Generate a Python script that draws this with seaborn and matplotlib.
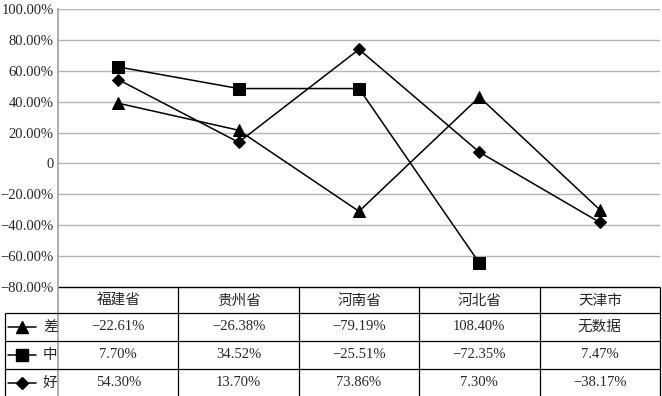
# ==========================================================
# 差 / 中 / 好 PROVINCE COMPARISON - LINE CHART WITH DATA TABLE
# ==========================================================

import numpy as np
import pandas as pd
import matplotlib
matplotlib.use("Agg")
import matplotlib.pyplot as plt
import seaborn as sns

# ==========================================================
# DATA
# ==========================================================

provinces = ["福建省", "贵州省", "河南省", "河北省", "天津市"]
series_names = ["差", "中", "好"]

# values as drawn on the chart (percent)
cha_values = [39.0, 21.5, -31.0, 43.0, -30.0]
zhong_values = [62.5, 48.5, 48.5, -64.5, np.nan]
hao_values = [54.3, 13.7, 73.86, 7.3, -38.17]

# values as printed in the table
cha_labels = ["−22.61%", "−26.38%", "−79.19%", "108.40%", "无数据"]
zhong_labels = ["7.70%", "34.52%", "−25.51%", "−72.35%", "7.47%"]
hao_labels = ["54.30%", "13.70%", "73.86%", "7.30%", "−38.17%"]

y_ticks = [-80, -60, -40, -20, 0, 20, 40, 60, 80, 100]

# ==========================================================
# STYLE
# ==========================================================

sns.set_style("white")
plt.rcParams["font.family"] = ["Liberation Serif", "Noto Sans CJK SC"]
plt.rcParams["font.size"] = 10.5

markers = {"差": "^", "中": "s", "好": "D"}
marker_sizes = {"差": 8, "中": 8, "好": 6.5}

rows = []
for name, vals in zip(series_names, [cha_values, zhong_values, hao_values]):
    for i, v in enumerate(vals):
        rows.append({"idx": i, "value": v, "series": name})
df = pd.DataFrame(rows).dropna()

# ==========================================================
# FIGURE
# ==========================================================

W, H = 662, 396
fig = plt.figure(figsize=(W / 100, H / 100), dpi=100)

ax = fig.add_axes([58 / W, 1 - 287 / H, (660 - 58) / W, (287 - 9) / H])

for name in series_names:
    sns.lineplot(
        data=df[df["series"] == name],
        x="idx",
        y="value",
        color="black",
        linewidth=1.1,
        marker=markers[name],
        markersize=marker_sizes[name],
        markeredgecolor="black",
        sort=False,
        ax=ax,
        zorder=3
    )

ax.set_xlim(-0.5, len(provinces) - 0.5)
ax.set_ylim(-80, 100)
ax.set_yticks(y_ticks)
ax.set_yticklabels(
    ["0" if t == 0 else f"{t:.2f}%".replace("-", "−") for t in y_ticks],
    fontsize=10.5
)
ax.set_xticks([])
ax.set_xlabel("")
ax.set_ylabel("")
ax.tick_params(axis="y", length=0, pad=3)

for t in y_ticks:
    if t == -80:
        continue
    ax.axhline(t, color="#b4b4b4", linewidth=1, zorder=1)

for s in ["top", "right", "bottom"]:
    ax.spines[s].set_visible(False)
ax.spines["left"].set_color("#a0a0a0")
ax.spines["left"].set_linewidth(1.2)

# ==========================================================
# DATA TABLE
# ==========================================================

px_per_unit = (660 - 58) / len(provinces)
left_col = (58 - 5) / px_per_unit
x_left = -0.5 - left_col

tax = fig.add_axes([5 / W, 0, (660 - 5) / W, 109 / H])
tax.set_xlim(x_left, len(provinces) - 0.5)
tax.set_ylim(109, 0)
tax.axis("off")

row_edges = [0, 26, 54, 82, 110]

# header top border and column separators
tax.hlines(0, -0.5, len(provinces) - 0.5, color="black", linewidth=1, clip_on=False)
for i in range(len(provinces)):
    tax.vlines(i + 0.5, 0, 110, color="black", linewidth=0.9, clip_on=False)
tax.vlines(-0.5, 0, 110, color="#a0a0a0", linewidth=1.2, clip_on=False)
tax.vlines(x_left + 0.004, row_edges[1], 110, color="black", linewidth=0.9, clip_on=False)
for y in row_edges[1:4]:
    tax.hlines(y, x_left, len(provinces) - 0.5, color="black", linewidth=0.9)

for i, p in enumerate(provinces):
    tax.text(i, (row_edges[0] + row_edges[1]) / 2 + 1, p,
             ha="center", va="center", fontsize=10.5)

all_labels = [cha_labels, zhong_labels, hao_labels]
for r, name in enumerate(series_names):
    yc = (row_edges[r + 1] + row_edges[r + 2]) / 2
    for i, lab in enumerate(all_labels[r]):
        tax.text(i, yc, lab, ha="center", va="center", fontsize=10.5)
    # legend key
    k0 = x_left + 3 / px_per_unit
    k1 = x_left + 31 / px_per_unit
    tax.plot([k0, k1], [yc, yc], color="black", linewidth=1.1)
    tax.plot([(k0 + k1) / 2], [yc], marker=markers[name],
             markersize=marker_sizes[name], color="black")
    tax.text(x_left + 38 / px_per_unit, yc, name,
             ha="left", va="center", fontsize=10.5)

fig.savefig("out.png", dpi=100)
